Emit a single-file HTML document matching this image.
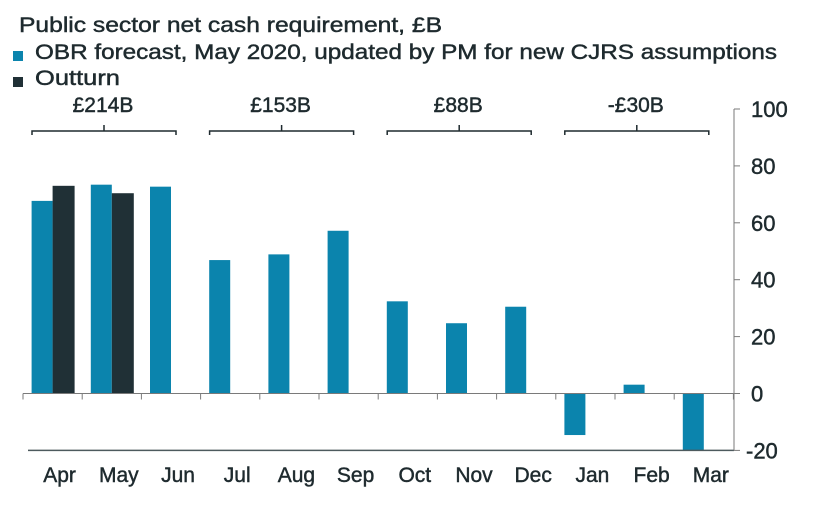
<!DOCTYPE html>
<html><head><meta charset="utf-8"><style>
html,body{margin:0;padding:0;background:#fff;}
svg{display:block;font-family:"Liberation Sans",sans-serif;}
svg text{stroke:#1e2a2e;stroke-width:0.45px;}
</style></head><body>
<svg id="chart" width="815" height="509" viewBox="0 0 815 509">
<text x="19" y="32" font-size="21" fill="#1e2a2e" textLength="423" lengthAdjust="spacingAndGlyphs">Public sector net cash requirement, £B</text>
<rect x="13" y="51" width="10" height="10" fill="#0b84ad"/>
<text x="35" y="59" font-size="21" fill="#1e2a2e" textLength="742" lengthAdjust="spacingAndGlyphs">OBR forecast, May 2020, updated by PM for new CJRS assumptions</text>
<rect x="13" y="77" width="10" height="10" fill="#203036"/>
<text x="35" y="85" font-size="21" fill="#1e2a2e" textLength="85" lengthAdjust="spacingAndGlyphs">Outturn</text>
<g id="bars"></g>
<g id="axes"></g>
</svg>
<script>
const months=["Apr","May","Jun","Jul","Aug","Sep","Oct","Nov","Dec","Jan","Feb","Mar"];
const forecast=[67.7,73.4,72.7,46.9,48.9,57.2,32.4,24.7,30.5,-14.6,3.1,-19.9];
const outturn=[73.0,70.4,null,null,null,null,null,null,null,null,null,null];
const yTicks=[100,80,60,40,20,0,-20];
const quarterLabels=["£214B","£153B","£88B","-£30B"];
const NS="http://www.w3.org/2000/svg";
const x0=23,band=59.2,zeroY=393.5,k=2.845;
const y=v=>zeroY-v*k;
const bx=i=>x0+i*band;
function mk(tag,attrs,parent){const e=document.createElementNS(NS,tag);for(const a in attrs)e.setAttribute(a,attrs[a]);parent.appendChild(e);return e;}
const bars=document.getElementById('bars'),axes=document.getElementById('axes');
const bw=21;
forecast.forEach((v,i)=>{
  const c=bx(i)+band/2;
  const r=mk('rect',{x:c-bw,y:Math.min(y(v),y(0)),width:bw,height:Math.abs(y(v)-y(0)),fill:'#0b84ad'},bars);
  
  
});
outturn.forEach((v,i)=>{
  if(v===null)return;
  const c=bx(i)+band/2;
  const r=mk('rect',{x:c,y:Math.min(y(v),y(0)),width:bw+1,height:Math.abs(y(v)-y(0)),fill:'#203036'},bars);
  
  
});
let zl=mk('line',{x1:x0,x2:740,y1:y(0),y2:y(0),stroke:'#7a7a7a','stroke-width':1},axes);


for(let i=0;i<=12;i++){
  const xx=bx(i);
  const t=mk('line',{x1:xx,x2:xx,y1:y(0),y2:y(0)+6,stroke:'#7a7a7a','stroke-width':1},axes);
  
  
}
let bl=mk('line',{x1:28,x2:734,y1:y(-20),y2:y(-20),stroke:'#4d5a5e','stroke-width':1.5},axes);


let yl=mk('line',{x1:734,x2:734,y1:y(100),y2:y(-20),stroke:'#7a7a7a','stroke-width':1},axes);


yTicks.forEach(v=>{
  const t=mk('line',{x1:734,x2:740,y1:y(v),y2:y(v),stroke:'#7a7a7a','stroke-width':1},axes);
  
  
  const l=mk('text',{x:v<0?746:751,y:y(v)+8,'font-size':22,fill:'#1e2a2e'},axes);
  l.textContent=String(v);
  
  
});
months.forEach((m,i)=>{
  const l=mk('text',{x:bx(i)+band/2+7,y:482,'font-size':21,fill:'#1e2a2e','text-anchor':'middle'},axes);
  l.textContent=m;
  
  
});
quarterLabels.forEach((q,j)=>{
  const xa=bx(j*3)+9,xb=xa+144,xm=(xa+xb)/2;
  const p=mk('path',{d:`M${xa},135 V131 H${xb} V135 M${xm},131 V125`,fill:'none',stroke:'#1e2a2e','stroke-width':1.5},axes);
  
  
  const l=mk('text',{x:xm-1,y:112,'font-size':21,fill:'#1e2a2e','text-anchor':'middle'},axes);
  l.textContent=q;
  
  
});
</script>
</body></html>
